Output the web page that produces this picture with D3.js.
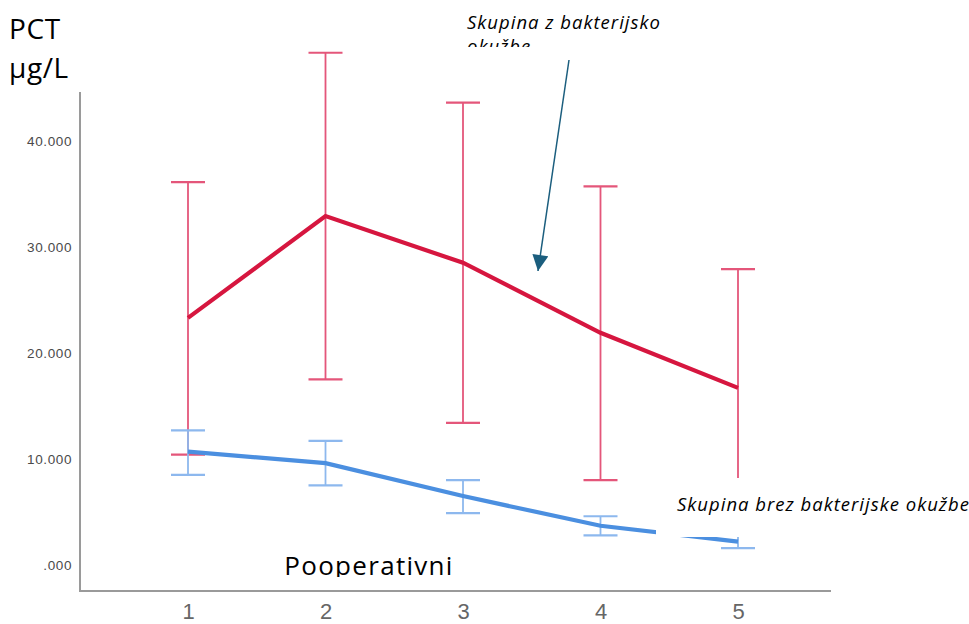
<!DOCTYPE html>
<html>
<head>
<meta charset="utf-8">
<script src="https://cdn.jsdelivr.net/npm/d3@7"></script>
<style>
	body { margin: 0; background: #fff; }
	svg { display: block; }
</style>
</head>
<body>
<svg id="chart"></svg>
<script>
// postoperative day
const days = [1, 2, 3, 4, 5];
const yTicks = [0, 10, 20, 30, 40];
const yTickLabels = [".000", "10.000", "20.000", "30.000", "40.000"];

// group with bacterial infection
const infMean  = [23.3, 32.9, 28.5, 21.9, 16.7];
const infUpper = [36.1, 48.3, 43.6, 35.7, 27.9];
const infLower = [10.4, 17.5, 13.4, 8.0, 5.5];

// group without bacterial infection
const noInfMean  = [10.7, 9.6, 6.5, 3.7, 2.2];
const noInfUpper = [12.7, 11.7, 8.0, 4.6, 2.9];
const noInfLower = [8.5, 7.5, 4.9, 2.8, 1.6];

const width = 969, height = 624;
const svg = d3.select("#chart").attr("width", width).attr("height", height);

const xScale = d3.scalePoint().domain(days).range([188, 738]);
const yScale = d3.scaleLinear().domain([-2.45, 44.6]).range([591, 92]);

// axes
svg.append("line")
	.attr("x1", 80).attr("x2", 80).attr("y1", 92).attr("y2", 591)
	.attr("stroke", "#9a9a9a").attr("stroke-width", 2);
svg.append("line")
	.attr("x1", 79).attr("x2", 831).attr("y1", 591).attr("y2", 591)
	.attr("stroke", "#9a9a9a").attr("stroke-width", 2);

const yAxis = d3.axisLeft(yScale).tickValues(yTicks)
	.tickFormat((d, i) => yTickLabels[i]).tickSize(0).tickPadding(8);
svg.append("g").attr("transform", "translate(80,0)").call(yAxis)
	.call(g => g.select(".domain").remove())
	.selectAll("text")
	.attr("font-family", "Liberation Sans, Arial, sans-serif")
	.attr("font-size", 13.5).attr("letter-spacing", 0.6).attr("fill", "#4a4a4a");

const xAxis = d3.axisBottom(xScale).tickSize(0).tickPadding(12);
svg.append("g").attr("transform", "translate(0,591)").call(xAxis)
	.call(g => g.select(".domain").remove())
	.selectAll("text")
	.attr("font-family", "Liberation Sans, Arial, sans-serif")
	.attr("font-size", 22).attr("fill", "#666");

function drawGroup(mean, upper, lower, barColor, lineColor) {
	const g = svg.append("g");
	const cap = 17;
	days.forEach(function(d, i) {
		const x = xScale(d);
		g.append("line").attr("x1", x).attr("x2", x)
			.attr("y1", yScale(upper[i])).attr("y2", yScale(lower[i]))
			.attr("stroke", barColor).attr("stroke-width", 1.8);
		[upper[i], lower[i]].forEach(function(v) {
			g.append("line").attr("x1", x - cap).attr("x2", x + cap)
				.attr("y1", yScale(v)).attr("y2", yScale(v))
				.attr("stroke", barColor).attr("stroke-width", 2.2);
		});
	});
	const line = d3.line().x((d, i) => xScale(days[i])).y(d => yScale(d));
	g.append("path").datum(mean).attr("d", line)
		.attr("fill", "none").attr("stroke", lineColor).attr("stroke-width", 4.2);
}

drawGroup(infMean, infUpper, infLower, "#e4567a", "#d6163f");
drawGroup(noInfMean, noInfUpper, noInfLower, "#8db8ee", "#4b8fe0");

// labels pasted on top of the chart
const font = "Open Sans, Liberation Sans, sans-serif";
svg.append("text").attr("x", 9).attr("y", 39).text("PCT")
	.attr("font-family", font).attr("font-size", 28).attr("letter-spacing", 0.6);
svg.append("text").attr("x", 9).attr("y", 78).text("µg/L")
	.attr("font-family", font).attr("font-size", 28).attr("letter-spacing", 0.6);

const defs = svg.append("defs");
defs.append("clipPath").attr("id", "clipTop")
	.append("rect").attr("x", 0).attr("y", 0).attr("width", width).attr("height", 47);
defs.append("clipPath").attr("id", "clipPoop")
	.append("rect").attr("x", 0).attr("y", 0).attr("width", width).attr("height", 577);

const topNote = svg.append("g").attr("clip-path", "url(#clipTop)")
	.attr("font-family", font).attr("font-size", 18.5)
	.attr("letter-spacing", 1).attr("font-style", "italic");
topNote.append("text").attr("x", 467).attr("y", 29).text("Skupina z bakterijsko");
topNote.append("text").attr("x", 467).attr("y", 53).text("okužbe");

// arrow
defs.append("marker").attr("id", "arrowHead")
	.attr("viewBox", "0 0 10 10").attr("refX", 10).attr("refY", 5)
	.attr("markerWidth", 17).attr("markerHeight", 16).attr("markerUnits", "userSpaceOnUse")
	.attr("orient", "auto")
	.append("path").attr("d", "M0,0 L10,5 L0,10 Z").attr("fill", "#1b5e7e");
svg.append("line").attr("x1", 569).attr("y1", 60).attr("x2", 538).attr("y2", 271)
	.attr("stroke", "#1b5e7e").attr("stroke-width", 1.5)
	.attr("marker-end", "url(#arrowHead)");

// white box for bottom label
svg.append("rect").attr("x", 656).attr("y", 478).attr("width", 313).attr("height", 59)
	.attr("fill", "#fff");
svg.append("text").attr("x", 677).attr("y", 511).text("Skupina brez bakterijske okužbe")
	.attr("font-family", font).attr("font-size", 18.5)
	.attr("letter-spacing", 1).attr("font-style", "italic");

svg.append("text").attr("x", 369).attr("y", 575).attr("text-anchor", "middle")
	.attr("clip-path", "url(#clipPoop)")
	.text("Pooperativni")
	.attr("font-family", font).attr("font-size", 26).attr("letter-spacing", 1.3);
</script>
</body>
</html>
